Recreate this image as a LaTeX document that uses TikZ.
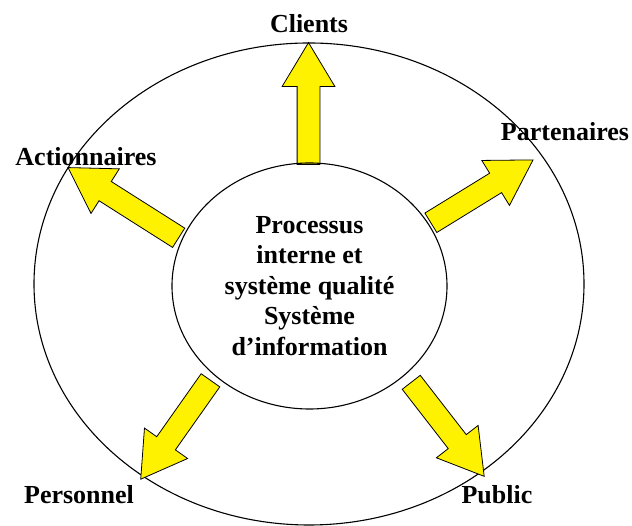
\documentclass[tikz,border=0pt]{standalone}
\usepackage{fontspec}
\setmainfont{Liberation Serif}
\usetikzlibrary{shapes.geometric,shapes.arrows}

\begin{document}
\begin{tikzpicture}[
        x=1pt, y=1pt,
        every node/.style={font=\fontsize{26}{30.5}\selectfont\bfseries},
        stakeholder/.style={anchor=base, inner sep=0pt},
        core/.style={draw, line width=1.1pt, ellipse, minimum width=275pt, minimum height=246pt, inner sep=0pt, align=center},
        fatarrow/.style={single arrow, draw, line width=0.8pt, fill=yellow, inner xsep=0pt, inner ysep=11pt,
            single arrow head extend=15pt, single arrow tip angle=62, anchor=tail}
    ]
        \useasboundingbox (0,0) rectangle (632,526);

        % Outer ring of stakeholders
        \draw[line width=1.1pt] (309,242) ellipse [x radius=275pt, y radius=241pt];

        % Block arrows leaving the core
        \node[fatarrow, minimum height=122pt, rotate=90] (toclients) at (308.5,361) {};
        \node[fatarrow, minimum height=131pt, rotate=147.6] (toactionnaires) at (179,288) {};
        \node[fatarrow, minimum height=120pt, rotate=31.6] (topartenaires) at (430.5,303) {};
        \node[fatarrow, minimum height=121pt, rotate=234.8] (topersonnel) at (210.7,146) {};
        \node[fatarrow, minimum height=119pt, rotate=-52.2] (topublic) at (411,144) {};

        % Core of the company
        \node[core] (core) at (309.5,240) {Processus\\interne et\\système qualité\\Système\\d’information};

        % Stakeholders
        \node[stakeholder] (clients) at (309,493) {Clients};
        \node[stakeholder] (actionnaires) at (86,360) {Actionnaires};
        \node[stakeholder] (partenaires) at (565,385) {Partenaires};
        \node[stakeholder] (personnel) at (79,22) {Personnel};
        \node[stakeholder] (public) at (497,22) {Public};
    \end{tikzpicture}
\end{document}
